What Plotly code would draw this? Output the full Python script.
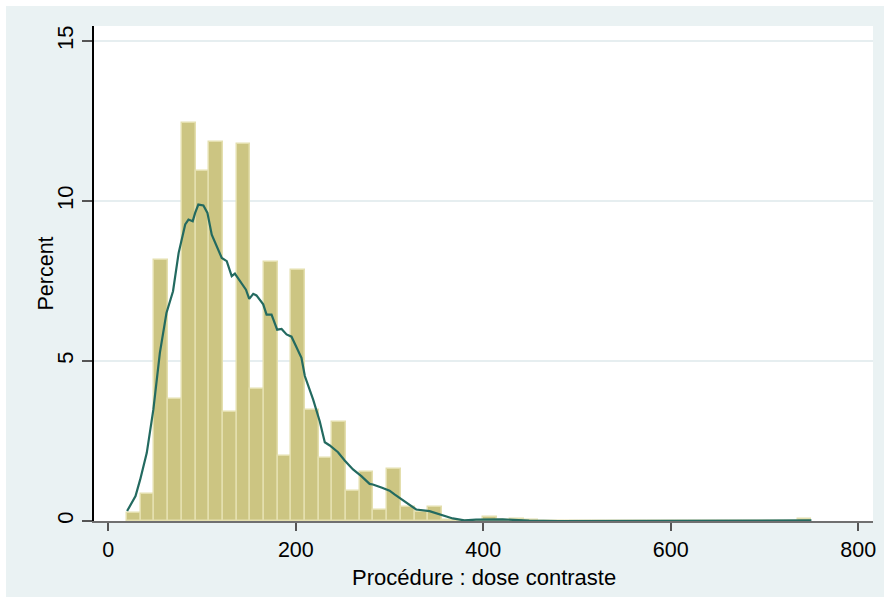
import plotly.graph_objects as go

# Histogram definition (Percent per bin)
bin_start = 20.0
bin_width = 14.6
percent = [0.26, 0.85, 8.15, 3.82, 12.44, 10.93, 11.85, 3.41, 11.79, 4.13,
           8.09, 2.03, 7.83, 3.48, 1.97, 3.10, 0.93, 1.53, 0.34, 1.64,
           0.45, 0.27, 0.45, 0.04, 0.00, 0.00, 0.12, 0.03, 0.06, 0.03,
           0.00, 0.00, 0.00, 0.00, 0.00, 0.00, 0.00, 0.00, 0.00, 0.00,
           0.00, 0.00, 0.00, 0.00, 0.00, 0.00, 0.00, 0.00, 0.00, 0.05]

# Kernel density line (percent scale)
dens_x = [20, 29, 34, 41, 48, 51, 55, 62, 69, 75, 82, 85.5, 90, 92.6, 96, 101.4,
          105.7, 110.3, 117.4, 121, 126.3, 131.6, 135, 142.2, 146.8, 150.3, 154.6,
          158, 165.2, 168.8, 174.1, 180.1, 184.8, 190.1, 195.4, 206, 209.6, 218.4,
          225.5, 230.9, 236.2, 245, 252.1, 261, 269.9, 278.7, 282.2, 292, 300,
          305.3, 317.8, 328.4, 342.6, 356.7, 367.4, 379.8, 392.2, 420.6, 449,
          480, 550, 650, 720, 750]
dens_y = [0.31, 0.78, 1.3, 2.13, 3.48, 4.2, 5.26, 6.5, 7.18, 8.38, 9.27, 9.42, 9.37,
          9.63, 9.89, 9.86, 9.63, 8.95, 8.48, 8.22, 8.12, 7.65, 7.73, 7.44, 7.23,
          6.94, 7.10, 7.05, 6.77, 6.45, 6.45, 5.98, 6.0, 5.83, 5.76, 5.1, 4.53, 3.8,
          3.12, 2.46, 2.36, 2.15, 1.89, 1.61, 1.4, 1.16, 1.14, 1.04, 0.95,
          0.83, 0.57, 0.36, 0.31, 0.17, 0.08, 0.02, 0.04, 0.05, 0.01,
          0.0, 0.0, 0.0, 0.01, 0.02]

x_ticks = [0, 200, 400, 600, 800]
y_ticks = [0, 5, 10, 15]
x_title = "Procédure : dose contraste"
y_title = "Percent"

centers = [bin_start + bin_width * (i + 0.5) for i in range(len(percent))]

FONT = "Liberation Sans, Arial, sans-serif"
BG = "#EAF2F3"
PW, PH = 779, 495

fig = go.Figure()
fig.add_trace(go.Bar(
    x=centers, y=percent, width=bin_width,
    marker=dict(color="#CCC582", line=dict(color="#E4DFAE", width=1.5)),
    showlegend=False, hoverinfo="skip"))
fig.add_trace(go.Scatter(
    x=dens_x, y=dens_y, mode="lines",
    line=dict(color="#236A60", width=2.2),
    showlegend=False))

fig.update_layout(
    width=890, height=603,
    paper_bgcolor=BG, plot_bgcolor="white",
    margin=dict(l=94, r=17, t=26, b=82),
    font=dict(family=FONT, size=22, color="black"),
    bargap=0,
    shapes=[dict(type="rect", xref="paper", yref="paper",
                 x0=-94/PW, x1=1 + 17/PW, y0=-82/PH, y1=1 + 26/PH,
                 line=dict(color="white", width=12), fillcolor="rgba(0,0,0,0)",
                 layer="above")],
    annotations=[
        dict(text=x_title, xref="paper", yref="paper", x=0.5, y=-43/PH,
             xanchor="center", yanchor="top", showarrow=False, borderpad=0,
             font=dict(size=22)),
        dict(text=y_title, xref="paper", yref="paper", x=-49/PW, y=0.5,
             xanchor="center", yanchor="middle", showarrow=False,
             textangle=-90, font=dict(size=21.5)),
    ],
)
fig.update_xaxes(
    range=[-15.3, 815.7], tickvals=x_ticks, ticks="outside", ticklen=8,
    tickwidth=1.5, tickcolor="#555555", showline=True, linecolor="#707070",
    linewidth=2, showgrid=False, zeroline=False,
    tickfont=dict(size=21.5))
fig.update_yaxes(
    range=[0, 15.47], tickvals=y_ticks, ticks="outside", ticklen=10,
    tickwidth=1.5, tickcolor="#555555", showline=True, linecolor="black",
    linewidth=1.5, showgrid=True, gridcolor="#E6EEF0", gridwidth=1.5,
    zeroline=False, tickangle=-90,
    tickfont=dict(size=22))

fig.write_html("out.html")
